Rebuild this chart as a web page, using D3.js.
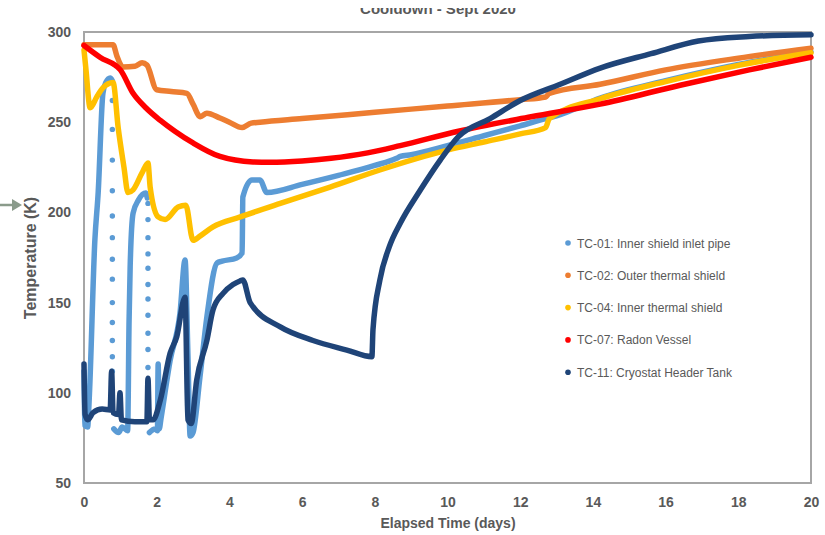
<!DOCTYPE html>
<html>
<head>
<meta charset="utf-8">
<script src="https://cdn.jsdelivr.net/npm/d3@7"></script>
<style>
  body { margin: 0; background: #fff; }
  svg { display: block; font-family: "Liberation Sans", Arial, sans-serif; }
</style>
</head>
<body>
<div id="chart-area"></div>
<script>
/*
*    Cooldown - Sept 2020
*    temperaturas de termopares vs tiempo
*/

// ---- datos [dias, K] ----
const seriesNames = ["TC-01: Inner shield inlet pipe", "TC-02: Outer thermal shield",
    "TC-04: Inner thermal shield", "TC-07: Radon Vessel", "TC-11: Cryostat Header Tank"]
const seriesColors = ["#5B9BD5", "#ED7D31", "#FFC000", "#FF0000", "#1F4478"]

const xTicks = [0, 2, 4, 6, 8, 10, 12, 14, 16, 18, 20]
const yTicks = [50, 100, 150, 200, 250, 300]

// null = hueco (ahi la lectura es dispersa, ver tc01Sparse)
const tc01 = [
    [0,112],[0.02,82],[0.1,81],[0.14,95],[0.3,185],[0.39,211],[0.52,266],[0.6,272],[0.72,274.5],[0.78,273],
    null,
    [0.82,80],[0.95,78],[1.05,81],[1.2,79],[1.24,140],[1.27,170],[1.35,199.5],[1.5,206.9],[1.7,210.7],[1.74,208],
    null,
    [1.8,78],[1.95,80],[2.02,79],[2.04,116],[2.07,80],[2.12,86],[2.37,118],[2.64,144],[2.78,173.6],[2.86,120],
    [2.92,76],[3.0,78],[3.19,108.8],[3.38,142],[3.66,172],[3.8,173],[4.2,174.7],[4.35,177.5],[4.37,208.5],
    [4.62,218],[4.84,218],[5.03,211],[6,215.5],[7,220.5],[8,226],[8.6,230],[8.7,231],[9,232],[10,237],
    [11,242.5],[12,248],[12.7,252],[13,253.5],[14.2,263.4],[16,273],[18,282],[20,289]
]
const tc01Sparse = [
    [0.78,262],[0.78,246],[0.78,229],[0.78,212],[0.78,198],[0.78,186],[0.78,174],[0.78,163],
    [0.78,150],[0.78,139],[0.78,129],[0.78,120],[0.78,112],[0.78,102],
    [1.76,205],[1.76,196],[1.76,186],[1.76,177],[1.76,169],[1.76,160],[1.76,152],[1.76,143],
    [1.76,133],[1.76,124],[1.76,114],[1.76,104]
]
const tc02 = [
    [0,293],[0.4,293],[0.8,293],[0.9,287],[1.07,280.6],[1.4,281],[1.6,283],[1.73,281.7],[2.0,268],[2.4,267],
    [2.83,266],[3.0,260],[3.2,253],[3.38,255],[3.74,252.3],[4.0,250],[4.35,247],[4.6,249.5],[4.84,250],
    [6,252],[8,255.5],[10,259],[12,262.5],[12.7,264],[12.8,266],[14.2,271],[16,279],[18,285.5],[20,291]
]
const tc04 = [
    [0,290],[0.05,280],[0.17,258],[0.35,264],[0.52,269],[0.8,272],[0.94,247],[1.1,225],[1.21,211],[1.35,212.5],
    [1.6,222],[1.76,227.4],[1.82,214],[2.04,197.5],[2.23,196],[2.59,203],[2.8,204],[3.0,184.5],[3.2,187],
    [3.55,192],[4.3,197.5],[5.4,205],[6.77,214],[8.14,223.5],[10,234.5],[11,239],[12,243.5],[12.7,247],
    [12.8,252],[14.2,263],[16,272.5],[18,281.5],[20,288.5]
]
const tc07 = [
    [0,292.5],[0.44,286],[1.0,279],[1.35,266],[1.7,258],[2.1,251],[2.5,245],[3.0,238.5],[3.74,231],[4.65,228],
    [5.1,227.8],[6,228.5],[6.8,230],[7.8,233],[8.7,237],[10.3,245],[12.3,253],[14.2,260],[16.4,270.5],
    [18.3,279],[20,286]
]
const tc11 = [
    [0,116],[0.03,88],[0.1,85],[0.25,89],[0.5,91],[0.72,90.5],[0.76,112],[0.8,89],[0.95,88],[0.99,100],
    [1.03,85],[1.4,84],[1.73,84],[1.76,108],[1.8,85],[1.9,85],[2.1,96],[2.37,122],[2.55,131],[2.78,153],
    [2.86,85],[2.95,83],[3.1,107],[3.38,129],[3.55,146],[3.82,155],[4.1,160],[4.29,162],[4.37,162.5],
    [4.57,150],[5.4,136.5],[6.3,129],[7.23,123.7],[7.92,120],[7.95,135],[8.14,162.5],[8.4,181],[8.7,194],
    [9.24,212],[9.8,229],[10.3,242],[11.17,252],[12,262],[13.1,271],[14.2,280],[15.6,288],[16.9,295],
    [18.3,297.5],[20,298.5]
]
const allSeries = [tc01, tc02, tc04, tc07, tc11]

// ---- layout ----
var W = 825, H = 535
var margin = { left: 84, right: 14, top: 32, bottom: 52 }
var width = W - margin.left - margin.right,
    height = H - margin.top - margin.bottom

var svg = d3.select("#chart-area")
    .append("svg")
        .attr("width", W)
        .attr("height", H)

svg.append("rect").attr("width", W).attr("height", H).attr("fill", "#fff")

var g = svg.append("g")
    .attr("transform", "translate(" + margin.left + "," + margin.top + ")")

var x = d3.scaleLinear().domain([0, 20]).range([0, width])
var y = d3.scaleLinear().domain([50, 300]).range([height, 0])

var textColor = "#595959"

// marco
g.append("rect")
    .attr("width", width)
    .attr("height", height)
    .attr("fill", "none")
    .attr("stroke", "#A6A6A6")
    .attr("stroke-width", 2)

// ejes (solo etiquetas)
var yAxis = g.append("g")
    .call(d3.axisLeft(y).tickValues(yTicks).tickSize(0).tickPadding(13))
var xAxis = g.append("g")
    .attr("transform", "translate(0," + height + ")")
    .call(d3.axisBottom(x).tickValues(xTicks).tickSize(0).tickPadding(14))

;[xAxis, yAxis].forEach(function(a){
    a.select(".domain").remove()
    a.selectAll("text")
        .attr("fill", textColor)
        .style("font-size", "14px")
        .style("font-weight", "bold")
        .style("font-family", '"Liberation Sans", Arial, sans-serif')
})

// lineas
var line = d3.line()
    .defined(d => d != null)
    .x(d => x(d[0]))
    .y(d => y(d[1]))
    .curve(d3.curveMonotoneX)

allSeries.forEach(function(data, i){
    g.append("path")
        .datum(data)
        .attr("d", line)
        .attr("fill", "none")
        .attr("stroke", seriesColors[i])
        .attr("stroke-width", 5.5)
        .attr("stroke-linejoin", "round")
        .attr("stroke-linecap", "round")

    // lecturas sueltas de TC-01 durante las caidas rapidas
    if (i == 0) {
        g.selectAll(".sparse")
            .data(tc01Sparse)
            .enter().append("circle")
                .attr("class", "sparse")
                .attr("cx", d => x(d[0]))
                .attr("cy", d => y(d[1]))
                .attr("r", 2.7)
                .attr("fill", seriesColors[0])
    }
})

// leyenda
var legend = svg.append("g")
    .attr("transform", "translate(568,243)")

seriesNames.forEach(function(name, i){
    var row = legend.append("g")
        .attr("transform", "translate(0," + (i * 32.3) + ")")
    row.append("circle")
        .attr("r", 2.8)
        .attr("fill", seriesColors[i])
    row.append("text")
        .attr("x", 9)
        .attr("y", 4.5)
        .attr("fill", textColor)
        .style("font-size", "12px")
        .text(name)
})

// titulos
svg.append("text")
    .attr("x", 438)
    .attr("y", 14)
    .attr("text-anchor", "middle")
    .attr("fill", textColor)
    .style("font-size", "15px")
    .style("font-weight", "bold")
    .text("Cooldown - Sept 2020")
// el titulo viene cortado arriba en el original
svg.append("rect").attr("width", W).attr("height", 8).attr("fill", "#fff")

svg.append("text")
    .attr("x", 448)
    .attr("y", 528)
    .attr("text-anchor", "middle")
    .attr("fill", textColor)
    .style("font-size", "14px")
    .style("font-weight", "bold")
    .text("Elapsed Time (days)")

svg.append("text")
    .attr("transform", "translate(36,258) rotate(-90)")
    .attr("text-anchor", "middle")
    .attr("fill", textColor)
    .style("font-size", "16px")
    .style("font-weight", "bold")
    .text("Temperature (K)")

// flecha gris a la izquierda
svg.append("line")
    .attr("x1", 0).attr("x2", 14)
    .attr("y1", 205).attr("y2", 205)
    .attr("stroke", "#8A9B8B")
    .attr("stroke-width", 2.5)
svg.append("path")
    .attr("d", "M12,199 L22,205 L12,211 Z")
    .attr("fill", "#8A9B8B")
</script>
</body>
</html>
